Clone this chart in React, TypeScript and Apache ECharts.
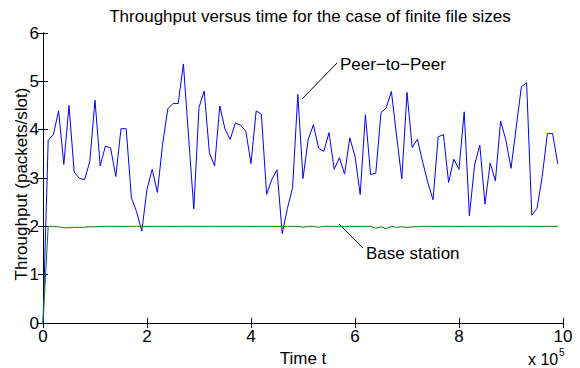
import React, { useEffect, useRef } from "react";
import * as echarts from "echarts";

const title = "Throughput versus time for the case of finite file sizes";
const xLabel = "Time t";
const yLabel = "Throughput (packets/slot)";
const step = 1e4;

const peerToPeer = [
  0, 3.78, 3.9, 4.39, 3.28, 4.5, 3.12, 2.99, 2.97, 3.34,
  4.61, 3.25, 3.66, 3.62, 3.03, 4.02, 4.02, 2.59, 2.3, 1.9,
  2.77, 3.18, 2.7, 3.7, 4.43, 4.54, 4.54, 5.36, 3.85, 2.36,
  4.46, 4.8, 3.52, 3.25, 4.49, 4.01, 3.8, 4.14, 4.09, 3.97,
  3.3, 4.39, 4.32, 2.66, 2.97, 3.17, 1.85, 2.37, 2.8, 4.73,
  2.99, 3.8, 4.1, 3.62, 3.55, 3.94, 3.18, 3.42, 3.08, 3.83,
  3.45, 2.66, 4.31, 3.07, 3.1, 4.35, 4.45, 4.79, 3.87, 2.98,
  4.77, 3.63, 3.8, 3.34, 2.91, 2.55, 3.85, 3.9, 2.91, 3.39,
  3.18, 4.37, 2.22, 3.27, 3.68, 2.46, 3.31, 2.94, 4.18, 3.79,
  3.2, 4.04, 4.89, 4.97, 2.23, 2.37, 3.03, 3.92, 3.92, 3.29,
];

const baseStation = [
  0, 2.0, 2.0, 1.99, 1.97, 1.97, 1.98, 1.98, 1.98, 1.99,
  1.99, 2.0, 2.0, 2.0, 2.0, 2.0, 2.0, 2.0, 2.0, 2.0,
  2.0, 2.0, 2.0, 2.0, 2.0, 2.0, 2.0, 2.0, 2.0, 2.0,
  2.0, 2.0, 2.0, 2.0, 2.0, 2.0, 2.0, 2.0, 2.0, 2.0,
  2.0, 2.0, 2.0, 2.0, 2.0, 2.0, 2.0, 2.0, 2.0, 2.0,
  1.98, 2.0, 2.0, 1.98, 2.0, 2.0, 2.0, 2.0, 2.0, 2.0,
  2.0, 2.0, 2.0, 2.0, 1.96, 1.99, 1.95, 2.0, 1.98, 1.99,
  1.98, 1.99, 1.99, 2.0, 2.0, 2.0, 2.0, 2.0, 2.0, 2.0,
  2.0, 2.0, 2.0, 2.0, 2.0, 2.0, 2.0, 2.0, 2.0, 2.0,
  2.0, 2.0, 2.0, 2.0, 2.0, 2.0, 2.0, 2.0, 2.0, 2.0,
];

const FONT = "'Liberation Sans', Arial, Helvetica, sans-serif";
const FS = 17;

export default function App() {
  const ref = useRef<HTMLDivElement>(null);
  useEffect(() => {
    document.body.style.margin = "0";
    const chart = echarts.init(ref.current!, null, { renderer: "svg" });
    const p2p = peerToPeer.map((v, i) => [i * step, v]);
    const bs = baseStation.map((v, i) => [i * step, v]);
    const axisLine = { show: true, lineStyle: { color: "#000", width: 1 } };
    const tick = { show: true, inside: true, length: 5, lineStyle: { color: "#000" } };
    chart.setOption({
      animation: false,
      backgroundColor: "#fff",
      textStyle: { fontFamily: FONT },
      title: {
        text: title,
        left: 305,
        top: 3,
        textAlign: "center",
        textStyle: { fontFamily: FONT, fontSize: FS, fontWeight: "normal", color: "#000" },
      },
      grid: { left: 43, right: 17, top: 33, bottom: 45, containLabel: false, outerBoundsMode: "none" },
      xAxis: [
        {
          type: "value",
          min: 0,
          max: 1e6,
          interval: 2e5,
          name: xLabel,
          nameLocation: "middle",
          nameGap: 19,
          nameTextStyle: { fontFamily: FONT, fontSize: FS, color: "#000" },
          axisLine,
          axisTick: tick,
          splitLine: { show: false },
          axisLabel: {
            color: "#000",
            fontSize: FS,
            fontFamily: FONT,
            margin: 5,
            formatter: (v: number) => String(v / 1e5),
          },
        },
        {
          type: "value",
          position: "top",
          min: 0,
          max: 1e6,
          interval: 2e5,
          axisLine,
          axisTick: tick,
          axisLabel: { show: false },
          splitLine: { show: false },
        },
      ],
      yAxis: [
        {
          type: "value",
          min: 0,
          max: 6,
          interval: 1,
          axisLine,
          axisTick: tick,
          splitLine: { show: false },
          axisLabel: { color: "#000", fontSize: FS, fontFamily: FONT, margin: 4 },
        },
        {
          type: "value",
          position: "right",
          min: 0,
          max: 6,
          interval: 1,
          axisLine,
          axisTick: tick,
          axisLabel: { show: false },
          splitLine: { show: false },
        },
      ],
      series: [
        {
          name: "Peer-to-Peer",
          type: "line",
          data: p2p,
          showSymbol: false,
          lineStyle: { color: "#0000ff", width: 1 },
          itemStyle: { color: "#0000ff" },
        },
        {
          name: "Base station",
          type: "line",
          data: bs,
          showSymbol: false,
          lineStyle: { color: "#008000", width: 1 },
          itemStyle: { color: "#008000" },
        },
      ],
      graphic: [
        {
          type: "text",
          x: 21,
          y: 184,
          rotation: Math.PI / 2,
          style: { text: yLabel, fontSize: FS, fontFamily: FONT, fill: "#000", align: "center", verticalAlign: "middle" },
        },
        { type: "line", shape: { x1: 302, y1: 99, x2: 337, y2: 63 }, style: { stroke: "#000", lineWidth: 1 } },
        {
          type: "text",
          x: 340,
          y: 64,
          style: { text: "Peer\u2212to\u2212Peer", fontSize: FS, fontFamily: FONT, fill: "#000", verticalAlign: "middle" },
        },
        { type: "line", shape: { x1: 339, y1: 224, x2: 363, y2: 248 }, style: { stroke: "#000", lineWidth: 1 } },
        {
          type: "text",
          x: 366,
          y: 253,
          style: { text: "Base station", fontSize: FS, fontFamily: FONT, fill: "#000", verticalAlign: "middle" },
        },
        {
          type: "text",
          x: 528,
          y: 359,
          style: { text: "x 10", fontSize: 16, fontFamily: FONT, fill: "#000", verticalAlign: "middle" },
        },
        {
          type: "text",
          x: 559,
          y: 352,
          style: { text: "5", fontSize: 10, fontFamily: FONT, fill: "#000", verticalAlign: "middle" },
        },
      ],
    });
    return () => chart.dispose();
  }, []);
  return <div ref={ref} style={{ width: 580, height: 368 }} />;
}
